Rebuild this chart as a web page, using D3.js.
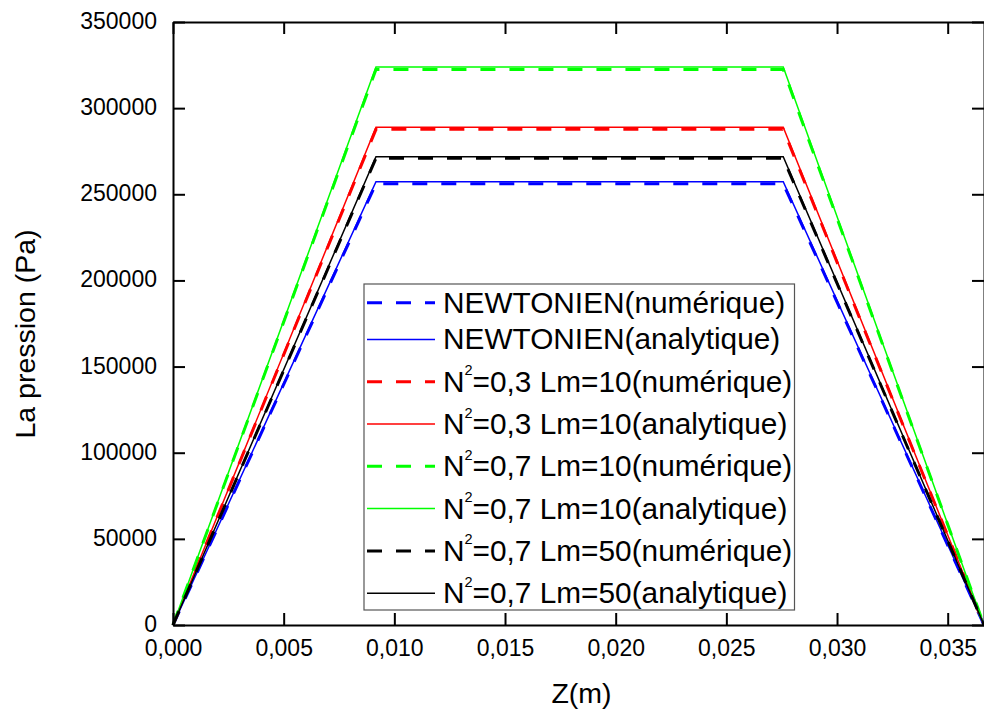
<!DOCTYPE html>
<html><head><meta charset="utf-8">
<script src="https://cdn.jsdelivr.net/npm/d3@7"></script>
<style>
html,body{margin:0;padding:0;background:#fff;}
svg{display:block;font-family:Arial,"Liberation Sans",sans-serif;}
</style></head>
<body>
<svg id="chart" width="984" height="711"></svg>
<script>
// ---- data ----
const zValues = [0, 0.00917, 0.02757, 0.03664];
const seriesNames = ["NEWTONIEN", "N2=0,3 Lm=10", "N2=0,7 Lm=10", "N2=0,7 Lm=50"];
const seriesColors = ["#0000FF", "#FF0000", "#00FF00", "#000000"];
const numericPlateau = [256100, 287700, 322500, 270900];
const analyticPlateau = [257300, 288900, 323900, 271800];
const xTicks = [0, 0.005, 0.010, 0.015, 0.020, 0.025, 0.030, 0.035];
const yTicks = [0, 50000, 100000, 150000, 200000, 250000, 300000, 350000];
const legendLabels = [
  {pre:"NEWTONIEN(numérique)", sup:null, post:""},
  {pre:"NEWTONIEN(analytique)", sup:null, post:""},
  {pre:"N", sup:"2", post:"=0,3 Lm=10(numérique)"},
  {pre:"N", sup:"2", post:"=0,3 Lm=10(analytique)"},
  {pre:"N", sup:"2", post:"=0,7 Lm=10(numérique)"},
  {pre:"N", sup:"2", post:"=0,7 Lm=10(analytique)"},
  {pre:"N", sup:"2", post:"=0,7 Lm=50(numérique)"},
  {pre:"N", sup:"2", post:"=0,7 Lm=50(analytique)"}
];

(function(){
// build series (profile: 0 -> plateau -> plateau -> 0)
function profile(p){ return [0, p, p, 0]; }
const series = [];
seriesNames.forEach((n,i)=>{
  series.push({name:n, color:seriesColors[i], dashed:true, values:profile(numericPlateau[i])});
  series.push({name:n, color:seriesColors[i], dashed:false, values:profile(analyticPlateau[i])});
});

const svg = d3.select("#chart");
const mL = 173, mR = 984, mT = 22, mB = 625;
const x = d3.scaleLinear().domain([0, 0.03664]).range([mL, mR]);
const y = d3.scaleLinear().domain([0, 350000]).range([mB, mT]);
const fmtX = d => d3.format(".3f")(d).replace(".", ",");

// lines
const line = d3.line().x((d,i)=>x(zValues[i])).y(d=>y(d));
const g = svg.append("g");
series.forEach(s=>{
  g.append("path").attr("d", line(s.values))
    .attr("fill","none").attr("stroke", s.color)
    .attr("stroke-width", s.dashed ? 3 : 1.5)
    .attr("stroke-dasharray", s.dashed ? "15,14" : null)
    .attr("stroke-linejoin","miter");
});

// axes
const tickLen = 12;
function styleAxis(sel){
  sel.select(".domain").attr("stroke","#000").attr("stroke-width",2);
  sel.selectAll(".tick line").attr("stroke","#000").attr("stroke-width",2);
  sel.selectAll("text").attr("fill","#000").style("font-size","23px")
     .style("font-family","Arial, 'Liberation Sans', sans-serif");
}
const xAxis = svg.append("g").attr("transform",`translate(0,${mB})`)
  .call(d3.axisBottom(x).tickValues(xTicks).tickFormat(fmtX).tickSizeInner(-tickLen).tickSizeOuter(0));
styleAxis(xAxis);
xAxis.selectAll("text").attr("dy","0.71em").attr("y", 15);

const xTop = svg.append("g").attr("transform",`translate(0,${mT})`)
  .call(d3.axisTop(x).tickValues(xTicks).tickFormat("").tickSizeInner(-tickLen).tickSizeOuter(0));
styleAxis(xTop);

const yAxis = svg.append("g").attr("transform",`translate(${mL},0)`)
  .call(d3.axisLeft(y).tickValues(yTicks).tickFormat(d3.format("d")).tickSizeInner(-tickLen).tickSizeOuter(0));
styleAxis(yAxis);
yAxis.selectAll("text").attr("x",-16).attr("dy","0.28em");

const yRight = svg.append("g").attr("transform",`translate(${mR},0)`)
  .call(d3.axisRight(y).tickValues(yTicks).tickFormat("").tickSizeInner(-tickLen).tickSizeOuter(0));
styleAxis(yRight);

// axis titles
svg.append("text").attr("x",581.5).attr("y",703).attr("text-anchor","middle")
  .style("font-size","28.5px").text("Z(m)");
svg.append("text").attr("transform","translate(35,334) rotate(-90)").attr("text-anchor","middle")
  .style("font-size","28.5px").text("La pression (Pa)");

// legend
const lg = svg.append("g");
const boxX = 364, boxY = 284, boxW = 430.5, boxH = 326;
lg.append("rect").attr("x",boxX).attr("y",boxY).attr("width",boxW).attr("height",boxH)
  .attr("fill","#fff").attr("stroke","#555").attr("stroke-width",1.2);
let cy = boxY + 18.7;
series.forEach((s,i)=>{
  const lab = legendLabels[i];
  if (i>0) cy += lab.sup ? 42.3 : 36.7;
  lg.append("line").attr("x1",367).attr("x2",435).attr("y1",cy).attr("y2",cy)
    .attr("stroke",s.color).attr("stroke-width", s.dashed?3:1.5)
    .attr("stroke-dasharray", s.dashed?"15,14":null);
  const t = lg.append("text").attr("x",443).attr("y",cy+10).style("font-size","29.8px");
  t.append("tspan").text(lab.pre);
  if (lab.sup){
    t.append("tspan").attr("dy",-16.5).style("font-size","14.5px").text(lab.sup);
    t.append("tspan").attr("dy",16.5).text(lab.post);
  }
});
})();
</script>
</body></html>
